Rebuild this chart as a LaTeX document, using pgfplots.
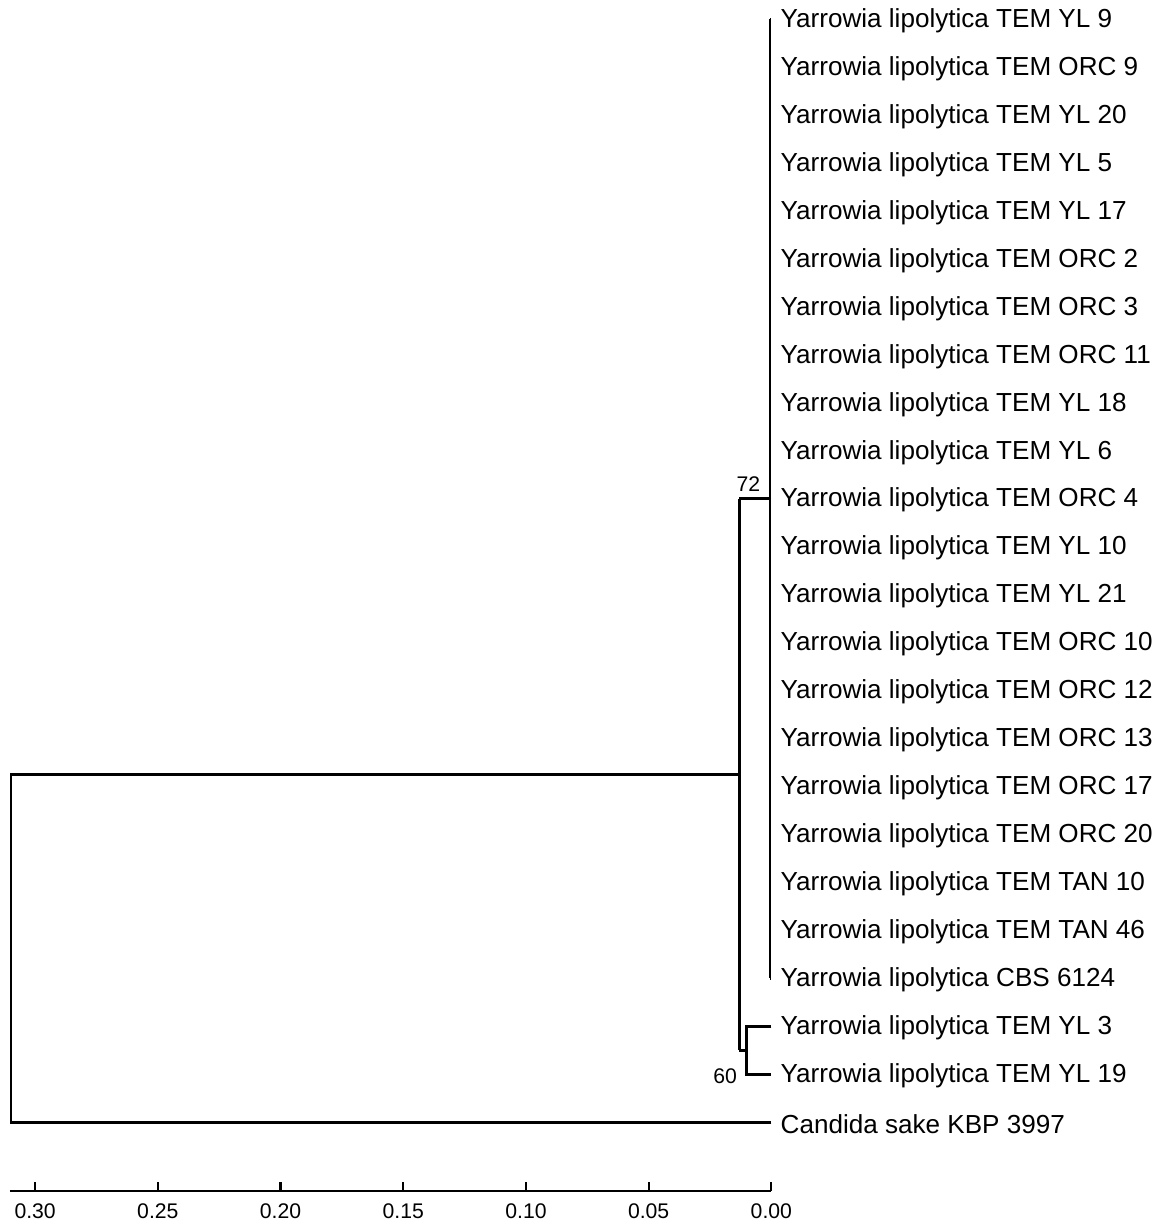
\documentclass[border=0pt]{standalone}
\usepackage{pgfplots}
\pgfplotsset{compat=1.18}
\usepackage{fontspec}
\setmainfont{Liberation Sans}
\tikzset{br/.style={black, solid, line width=1.3pt, mark=none}}
\begin{document}
\begin{tikzpicture}
\begin{axis}[
 scale only axis, width=381pt, height=596.16pt,
 x dir=reverse, xmin=0, xmax=0.3103, ymin=-24.44, ymax=0.4,
 axis x line*=bottom, axis y line=none,
 xtick={0,0.05,0.10,0.15,0.20,0.25,0.30},
 xticklabel={\pgfmathprintnumber[fixed,fixed zerofill,precision=2,assume math mode=true]{\tick}},
 tick align=inside, major tick length=4.5pt,
 tick style={black, line width=1.1pt},
 axis line style={draw=none},
 ticklabel style={font=\fontsize{10.6}{12}\selectfont},
 xticklabel style={yshift=-2.5pt},
 clip=false,
 unbounded coords=jump,
]
% scale bar line
\addplot[black, line width=1.1pt, mark=none] coordinates {(0.3103,-24.44) (0,-24.44)};
% root
\addplot[br] coordinates {(0,-23) (0.3099,-23) (0.3099,-15.75) (0.01303,-15.75)};
% node 72
\addplot[br] coordinates {(0.01303,-10) (0.01303,-21.5)};
\addplot[br] coordinates {(0.01303,-10) (0.0005,-10)};
\addplot[br] coordinates {(0.01303,-21.5) (0.01018,-21.5)};
% subclade (node 60)
\addplot[br] coordinates {(0,-21) (0.01018,-21) (0.01018,-22) (0,-22)};
% big clade
\addplot[br] coordinates {(0.0005,0) (0.0005,-20)};
\addplot[br] table[row sep=\\] {x y\\ 0.0005 0\\ 0 0\\ nan nan\\ 0.0005 -1\\ 0 -1\\ nan nan\\ 0.0005 -2\\ 0 -2\\ nan nan\\ 0.0005 -3\\ 0 -3\\ nan nan\\ 0.0005 -4\\ 0 -4\\ nan nan\\ 0.0005 -5\\ 0 -5\\ nan nan\\ 0.0005 -6\\ 0 -6\\ nan nan\\ 0.0005 -7\\ 0 -7\\ nan nan\\ 0.0005 -8\\ 0 -8\\ nan nan\\ 0.0005 -9\\ 0 -9\\ nan nan\\ 0.0005 -10\\ 0 -10\\ nan nan\\ 0.0005 -11\\ 0 -11\\ nan nan\\ 0.0005 -12\\ 0 -12\\ nan nan\\ 0.0005 -13\\ 0 -13\\ nan nan\\ 0.0005 -14\\ 0 -14\\ nan nan\\ 0.0005 -15\\ 0 -15\\ nan nan\\ 0.0005 -16\\ 0 -16\\ nan nan\\ 0.0005 -17\\ 0 -17\\ nan nan\\ 0.0005 -18\\ 0 -18\\ nan nan\\ 0.0005 -19\\ 0 -19\\ nan nan\\ 0.0005 -20\\ 0 -20\\};
% bootstrap values
\node[anchor=south, font=\fontsize{10.6}{12}\selectfont, inner sep=0pt] at (axis cs:0.0094,-9.85) {72};
\node[anchor=east, font=\fontsize{10.6}{12}\selectfont, inner sep=0pt] at (axis cs:0.01385,-22.05) {60};
% leaf labels
\begin{scope}[every node/.style={anchor=west, font=\fontsize{13.05}{15}\selectfont, inner sep=0pt, xshift=4.5pt, yshift=-0.8pt}]
\node at (axis cs:0,0) {Yarrowia lipolytica TEM YL 9};
\node at (axis cs:0,-1) {Yarrowia lipolytica TEM ORC 9};
\node at (axis cs:0,-2) {Yarrowia lipolytica TEM YL 20};
\node at (axis cs:0,-3) {Yarrowia lipolytica TEM YL 5};
\node at (axis cs:0,-4) {Yarrowia lipolytica TEM YL 17};
\node at (axis cs:0,-5) {Yarrowia lipolytica TEM ORC 2};
\node at (axis cs:0,-6) {Yarrowia lipolytica TEM ORC 3};
\node at (axis cs:0,-7) {Yarrowia lipolytica TEM ORC 11};
\node at (axis cs:0,-8) {Yarrowia lipolytica TEM YL 18};
\node at (axis cs:0,-9) {Yarrowia lipolytica TEM YL 6};
\node at (axis cs:0,-10) {Yarrowia lipolytica TEM ORC 4};
\node at (axis cs:0,-11) {Yarrowia lipolytica TEM YL 10};
\node at (axis cs:0,-12) {Yarrowia lipolytica TEM YL 21};
\node at (axis cs:0,-13) {Yarrowia lipolytica TEM ORC 10};
\node at (axis cs:0,-14) {Yarrowia lipolytica TEM ORC 12};
\node at (axis cs:0,-15) {Yarrowia lipolytica TEM ORC 13};
\node at (axis cs:0,-16) {Yarrowia lipolytica TEM ORC 17};
\node at (axis cs:0,-17) {Yarrowia lipolytica TEM ORC 20};
\node at (axis cs:0,-18) {Yarrowia lipolytica TEM TAN 10};
\node at (axis cs:0,-19) {Yarrowia lipolytica TEM TAN 46};
\node at (axis cs:0,-20) {Yarrowia lipolytica CBS 6124};
\node at (axis cs:0,-21) {Yarrowia lipolytica TEM YL 3};
\node at (axis cs:0,-22) {Yarrowia lipolytica TEM YL 19};
\node at (axis cs:0,-23) {Candida sake KBP 3997};
\end{scope}
\path (axis cs:0.31433,0.3958) rectangle (axis cs:-0.15961,-25.125);
\end{axis}
\end{tikzpicture}
\end{document}
